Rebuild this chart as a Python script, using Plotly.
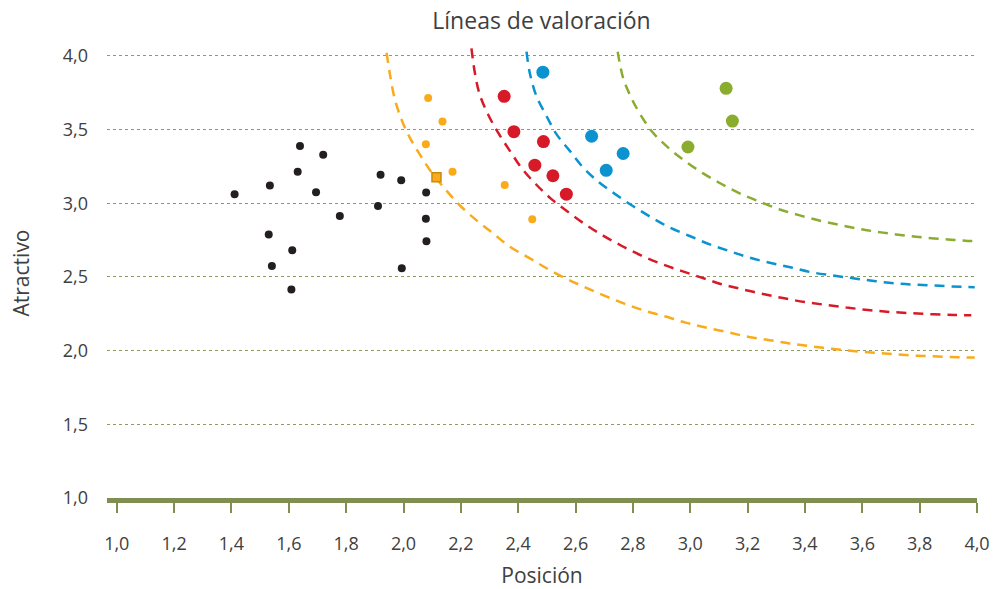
import plotly.graph_objects as go

# ---- data ----
black_x = [1.411, 1.534, 1.639, 1.720, 1.631, 1.695, 1.778, 1.920, 1.992, 2.079,
           1.911, 2.078, 2.080, 1.994, 1.530, 1.612, 1.541, 1.609]
black_y = [3.062, 3.120, 3.389, 3.329, 3.214, 3.075, 2.914, 3.194, 3.156, 3.073,
           2.981, 2.896, 2.743, 2.559, 2.788, 2.682, 2.574, 2.415]

orange_x = [2.086, 2.136, 2.078, 2.171, 2.353, 2.449]
orange_y = [3.715, 3.556, 3.401, 3.214, 3.125, 2.891]

square_x = [2.115]
square_y = [3.176]

red_x = [2.351, 2.385, 2.488, 2.458, 2.521, 2.568]
red_y = [3.726, 3.486, 3.419, 3.259, 3.187, 3.062]

blue_x = [2.486, 2.656, 2.766, 2.707]
blue_y = [3.890, 3.455, 3.338, 3.224]

green_x = [3.125, 3.147, 2.992]
green_y = [3.780, 3.558, 3.382]

# valuation lines
orange_line_x = [1.941, 1.953, 1.970, 1.993, 2.022, 2.060, 2.098, 2.150, 2.197, 2.255,
                 2.313, 2.371, 2.441, 2.499, 2.569, 2.632, 2.702, 2.772, 2.841, 2.911,
                 2.981, 3.050, 3.126, 3.201, 3.277, 3.347, 3.416, 3.492, 3.567, 3.643,
                 3.713, 3.788, 3.864, 3.939, 3.992]
orange_line_y = [4.022, 3.872, 3.704, 3.569, 3.446, 3.322, 3.210, 3.086, 2.985, 2.884,
                 2.795, 2.705, 2.626, 2.559, 2.487, 2.431, 2.372, 2.318, 2.271, 2.233,
                 2.192, 2.159, 2.127, 2.094, 2.071, 2.049, 2.031, 2.013, 1.997, 1.986,
                 1.975, 1.966, 1.960, 1.955, 1.953]

red_line_x = [2.237, 2.249, 2.266, 2.295, 2.330, 2.371, 2.412, 2.461, 2.514, 2.573,
              2.638, 2.696, 2.760, 2.830, 2.900, 2.969, 3.039, 3.109, 3.178, 3.254,
              3.323, 3.399, 3.475, 3.547, 3.620, 3.695, 3.771, 3.846, 3.922, 3.980]
red_line_y = [4.052, 3.884, 3.737, 3.603, 3.479, 3.356, 3.239, 3.131, 3.032, 2.943,
              2.851, 2.781, 2.712, 2.645, 2.588, 2.541, 2.496, 2.451, 2.418, 2.384,
              2.357, 2.330, 2.310, 2.292, 2.276, 2.263, 2.254, 2.247, 2.242, 2.240]

blue_line_x = [2.429, 2.441, 2.464, 2.499, 2.534, 2.580, 2.626, 2.679, 2.737, 2.801,
               2.865, 2.929, 2.998, 3.068, 3.138, 3.207, 3.281, 3.353, 3.422, 3.498,
               3.573, 3.647, 3.721, 3.794, 3.870, 3.945, 3.992]
blue_line_y = [4.029, 3.879, 3.726, 3.591, 3.468, 3.356, 3.244, 3.147, 3.064, 2.980,
               2.904, 2.835, 2.778, 2.721, 2.675, 2.631, 2.595, 2.564, 2.532, 2.510,
               2.490, 2.471, 2.456, 2.447, 2.440, 2.433, 2.431]

green_line_x = [2.747, 2.766, 2.792, 2.824, 2.868, 2.923, 2.981, 3.045, 3.109, 3.176,
                3.246, 3.312, 3.382, 3.457, 3.527, 3.602, 3.672, 3.748, 3.823, 3.899,
                3.968, 3.992]
green_line_y = [4.029, 3.850, 3.726, 3.609, 3.484, 3.378, 3.288, 3.203, 3.131, 3.064,
                3.008, 2.958, 2.918, 2.880, 2.851, 2.822, 2.801, 2.781, 2.766, 2.754,
                2.745, 2.744]

x_ticks = [1.0, 1.2, 1.4, 1.6, 1.8, 2.0, 2.2, 2.4, 2.6, 2.8, 3.0, 3.2, 3.4, 3.6, 3.8, 4.0]
y_ticks = [1.0, 1.5, 2.0, 2.5, 3.0, 3.5, 4.0]

# ---- colours ----
C_BLACK = "#231f20"
C_ORANGE = "#f9ab1c"
C_RED = "#d71a28"
C_BLUE = "#0a93cf"
C_GREEN = "#8aad2f"
C_AXIS = "#7f8f52"
C_GRID = "#8d9c5c"
C_TEXT = "#404040"

fig = go.Figure()

dash = "10px,7px"
for lx, ly, col in [(orange_line_x, orange_line_y, C_ORANGE),
                    (red_line_x, red_line_y, C_RED),
                    (blue_line_x, blue_line_y, C_BLUE),
                    (green_line_x, green_line_y, C_GREEN)]:
    fig.add_trace(go.Scatter(x=lx, y=ly, mode="lines",
                             line=dict(color=col, width=2.5, dash=dash, shape="spline"),
                             hoverinfo="skip"))

fig.add_trace(go.Scatter(x=black_x, y=black_y, mode="markers",
                         marker=dict(color=C_BLACK, size=8)))
fig.add_trace(go.Scatter(x=orange_x, y=orange_y, mode="markers",
                         marker=dict(color=C_ORANGE, size=8)))
fig.add_trace(go.Scatter(x=square_x, y=square_y, mode="markers",
                         marker=dict(color=C_ORANGE, size=9, symbol="square",
                                     line=dict(color="#c98a12", width=1.5))))
fig.add_trace(go.Scatter(x=red_x, y=red_y, mode="markers",
                         marker=dict(color=C_RED, size=13)))
fig.add_trace(go.Scatter(x=blue_x, y=blue_y, mode="markers",
                         marker=dict(color=C_BLUE, size=13)))
fig.add_trace(go.Scatter(x=green_x, y=green_y, mode="markers",
                         marker=dict(color=C_GREEN, size=13)))

font_family = "'Open Sans', Lato, sans-serif"

fig.update_layout(
    width=1000, height=589,
    margin=dict(l=107, r=23, t=48, b=91, autoexpand=False),
    paper_bgcolor="white", plot_bgcolor="white",
    showlegend=False,
    separators=",.",
    font=dict(family=font_family, color=C_TEXT, size=18),
    title=dict(text="Líneas de valoración", x=0.5415, xanchor="center",
               y=0.964, yanchor="middle",
               font=dict(family=font_family, size=23, color=C_TEXT)),
    xaxis=dict(
        range=[0.966, 4.0],
        tickmode="array", tickvals=x_ticks,
        ticktext=[f"{v:.1f}".replace(".", ",") for v in x_ticks],
        showgrid=False, zeroline=False, automargin=False,
        showline=True, linecolor=C_AXIS, linewidth=5,
        ticks="outside", ticklen=10, tickwidth=2, tickcolor=C_AXIS,
        ticklabelstandoff=15,
        tickfont=dict(size=18, color=C_TEXT),
        title=dict(text="Posición", font=dict(size=21, color=C_TEXT), standoff=22),
    ),
    yaxis=dict(
        range=[1.0, 4.054],
        tickmode="array", tickvals=y_ticks,
        ticktext=[f"{v:.1f}".replace(".", ",") for v in y_ticks],
        showgrid=True, gridcolor=C_GRID, gridwidth=1.3, griddash="dot",
        zeroline=False, showline=False, ticks="", automargin=False,
        ticklabelstandoff=18,
        tickfont=dict(size=18, color=C_TEXT),
        title=dict(text="Atractivo", font=dict(size=21, color=C_TEXT), standoff=27),
    ),
)

fig.write_html("out.html", config={"displayModeBar": False},
               post_script="document.body.style.margin='0';document.body.style.padding='0';")
